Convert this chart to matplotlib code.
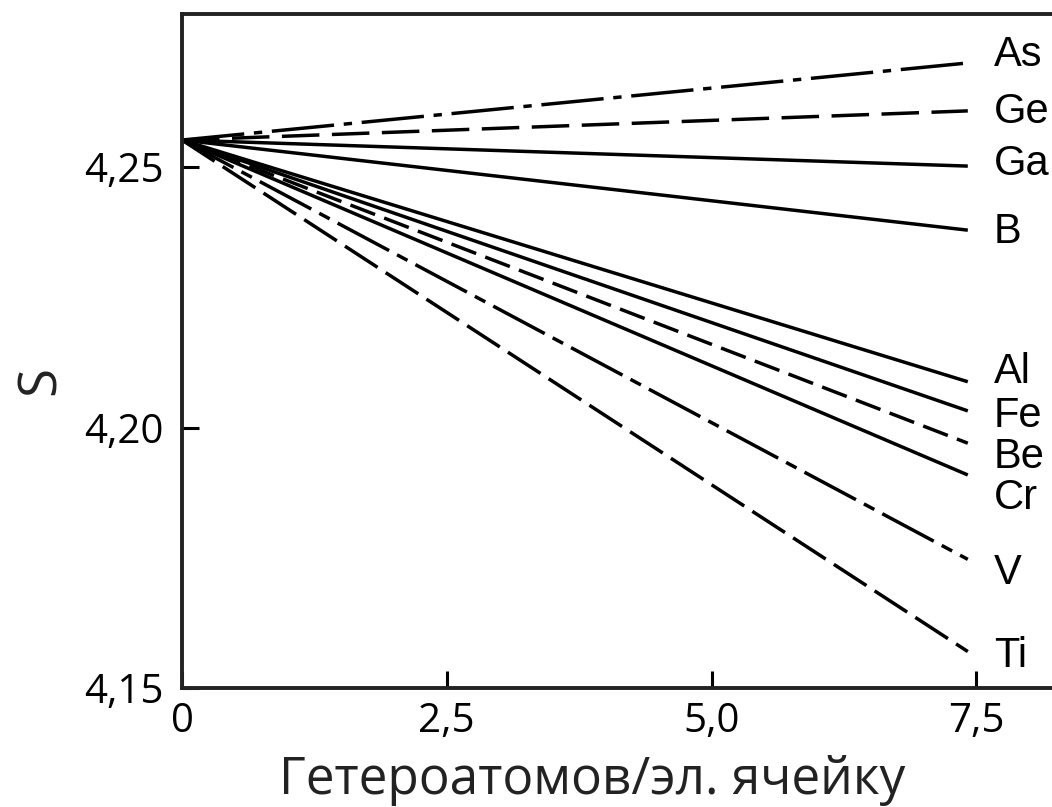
import matplotlib
matplotlib.use("Agg")
import matplotlib.pyplot as plt

# ---- data ----
elements = ['As', 'Ge', 'Ga', 'B', 'Al', 'Fe', 'Be', 'Cr', 'V', 'Ti']
x_range = [0.0, 7.42]
s_start = 4.2552
s_end = [4.2700, 4.2608, 4.2502, 4.2379, 4.2088, 4.2032, 4.1970, 4.1909, 4.1747, 4.1570]
x_ticks = [0, 2.5, 5.0, 7.5]
x_tick_labels = ['0', '2,5', '5,0', '7,5']
y_ticks = [4.15, 4.20, 4.25]
y_tick_labels = ['4,15', '4,20', '4,25']
x_label = 'Гетероатомов/эл. ячейку'
y_label = 'S'

# ---- styles / positions ----
styles = {
    'As': (0, (45, 7, 6, 7)),
    'Ge': (0, (27, 9)),
    'Ga': 'solid',
    'B': 'solid',
    'Al': 'solid',
    'Fe': 'solid',
    'Be': (0, (19, 7)),
    'Cr': 'solid',
    'V': (0, (42, 6.5, 8.5, 6.5)),
    'Ti': (0, (28, 7)),
}
label_y = [4.2715, 4.2606, 4.2506, 4.2375, 4.2107, 4.2022, 4.1943, 4.1865, 4.1721, 4.1561]
label_x = 7.667

plt.rcParams['lines.scale_dashes'] = False

fig = plt.figure(figsize=(10.52, 8.07), dpi=100)
ax = fig.add_axes([182 / 1052, 1 - 688 / 807, 1 - 182 / 1052, (688 - 14) / 807])

for el, se in zip(elements, s_end):
    ax.plot(x_range, [s_start, se], color='black', lw=2.5, linestyle=styles[el],
            solid_capstyle='butt', dash_capstyle='butt', clip_on=False)

for el, ly in zip(elements, label_y):
    ax.text(label_x, ly, el, fontsize=30, family='Liberation Sans',
            ha='left', va='center', color='black')

ax.set_xlim(0, 8.215)
ax.set_ylim(4.15, 4.2794)

ax.set_xticks(x_ticks)
ax.set_xticklabels(x_tick_labels, family='Open Sans', fontsize=29)
ax.set_yticks(y_ticks)
ax.set_yticklabels(y_tick_labels, family='Open Sans', fontsize=29)
ax.tick_params(axis='both', direction='in', length=12, width=2.2, color='black')
ax.tick_params(axis='x', pad=10)
ax.tick_params(axis='y', pad=13)

for side in ['left', 'bottom', 'top']:
    ax.spines[side].set_linewidth(2.8)
    ax.spines[side].set_color('#222222')
ax.spines['right'].set_visible(False)

fig.text(592 / 1052, 1 - 794 / 807, x_label, family='Open Sans', fontsize=37,
         ha='center', va='baseline', color='#222222')
fig.text(41 / 1052, 1 - 380 / 807, y_label, family='Open Sans', fontsize=38,
         ha='center', va='center', rotation=90, color='#222222')

fig.savefig('out.png', dpi=100)
